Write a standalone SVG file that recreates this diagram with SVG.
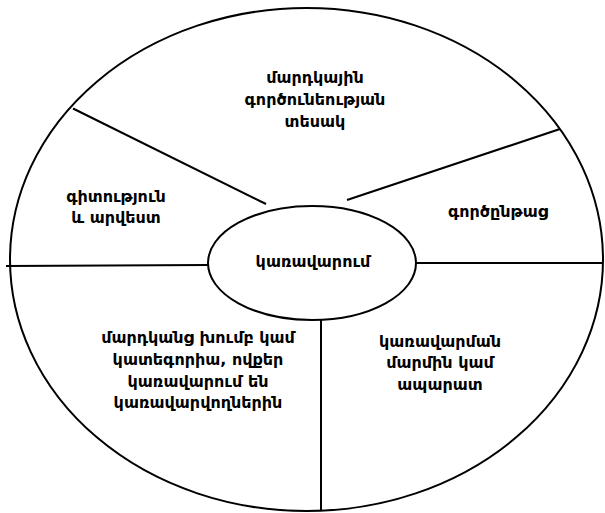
<svg xmlns="http://www.w3.org/2000/svg" width="605" height="513" viewBox="0 0 605 513">
<style>
.shape{fill:none;stroke:#000;stroke-width:2}
.ln{stroke:#000;stroke-width:2;fill:none}
text{font-family:"DejaVu Sans","Noto Sans",sans-serif;font-size:16px;font-weight:bold;fill:#000;text-anchor:middle}
</style>
<rect width="605" height="513" fill="#fff"/>
<g id="outer"><ellipse class="shape" cx="306.5" cy="259.5" rx="296.5" ry="251.5"/></g>
<g id="connectors">
<line class="ln" x1="6" y1="266" x2="208" y2="265"/>
<line class="ln" x1="416" y1="263" x2="603" y2="263"/>
<line class="ln" x1="321" y1="320" x2="321" y2="511"/>
<line class="ln" x1="73" y1="108.5" x2="266" y2="204"/>
<line class="ln" x1="347" y1="200" x2="560" y2="129"/>
</g>
<g id="center"><ellipse cx="312" cy="263" rx="104" ry="57" fill="#fff" stroke="#000" stroke-width="2"/><text x="313" y="267">կառավարում</text></g>
<g id="top"><text x="315" y="83">մարդկային</text><text x="315" y="105">գործունեության</text><text x="315" y="127">տեսակ</text></g>
<g id="left"><text x="116" y="202">գիտություն</text><text x="116" y="223">և արվեստ</text></g>
<g id="right"><text x="498" y="217">գործընթաց</text></g>
<g id="bottomleft"><text x="198" y="343">մարդկանց խումբ կամ</text><text x="198" y="365">կատեգորիա, ովքեր</text><text x="198" y="387">կառավարում են</text><text x="198" y="408">կառավարվողներին</text></g>
<g id="bottomright"><text x="440" y="347">կառավարման</text><text x="440" y="368">մարմին կամ</text><text x="440" y="390">ապարատ</text></g>
</svg>
